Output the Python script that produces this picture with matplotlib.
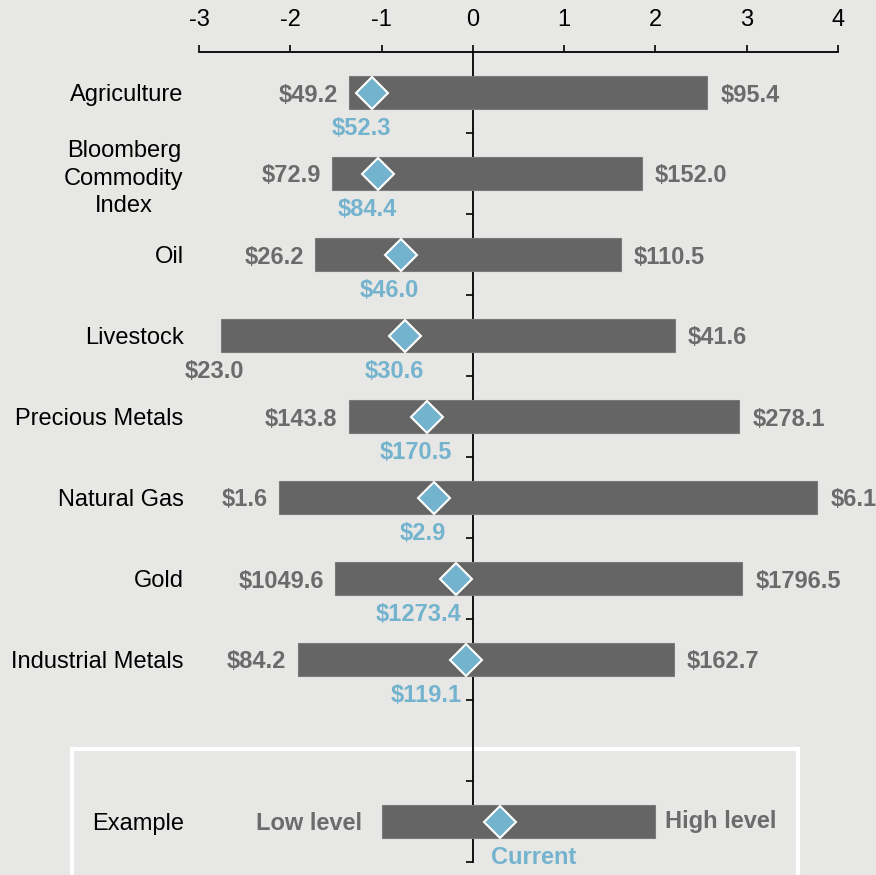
import numpy as np
import matplotlib
matplotlib.use('Agg')
import matplotlib.pyplot as plt
from matplotlib.patches import Rectangle

plt.rcParams['font.family'] = ['Liberation Sans', 'DejaVu Sans']
plt.rcParams['axes.unicode_minus'] = False

# data (z-scores and price levels)
categories = ['Agriculture', 'Bloomberg\nCommodity\nIndex', 'Oil', 'Livestock',
              'Precious Metals', 'Natural Gas', 'Gold', 'Industrial Metals']
low_z = [-1.36, -1.54, -1.73, -2.76, -1.36, -2.12, -1.51, -1.92]
high_z = [2.57, 1.85, 1.62, 2.21, 2.92, 3.77, 2.95, 2.20]
current_z = [-1.10, -1.04, -0.79, -0.74, -0.50, -0.43, -0.18, -0.08]
low_price = ['$49.2', '$72.9', '$26.2', '$23.0', '$143.8', '$1.6', '$1049.6', '$84.2']
high_price = ['$95.4', '$152.0', '$110.5', '$41.6', '$278.1', '$6.1', '$1796.5', '$162.7']
current_price = ['$52.3', '$84.4', '$46.0', '$30.6', '$170.5', '$2.9', '$1273.4', '$119.1']

example_label = 'Example'
example_low, example_high, example_current = -1.0, 2.0, 0.3
example_texts = ['Low level', 'High level', 'Current']
xticks = [-3, -2, -1, 0, 1, 2, 3, 4]

BG = '#e7e7e5'
BAR = '#656565'
TXT = '#6b6b6b'
BLUE = '#74b3cd'
FS = 17

fig = plt.figure(figsize=(8.76, 8.75), dpi=100, facecolor=BG)
ax = fig.add_axes([199/876, 13/875, 639/876, 810/875])
ax.set_facecolor('none')

ypos = np.arange(len(categories))
ex_y = len(categories) + 1

# bars
ax.barh(ypos, np.array(high_z) - np.array(low_z), left=low_z, height=0.41,
        color=BAR, edgecolor='#7a7a7a', linewidth=0.8, zorder=3)
ax.barh([ex_y], [example_high - example_low], left=[example_low], height=0.41,
        color=BAR, edgecolor='#7a7a7a', linewidth=0.8, zorder=3)
# current markers
ax.plot(list(current_z) + [example_current], list(ypos) + [ex_y], 'D', ms=16,
        mfc=BLUE, mec='white', mew=1.5, linestyle='none', zorder=4)

bold = dict(fontsize=FS, fontweight='bold', va='center_baseline')
for y, lo, hi, cu, lp, hp, cp, cat in zip(ypos, low_z, high_z, current_z,
                                          low_price, high_price, current_price, categories):
    ax.annotate(cat, xy=(0, y), xycoords=('axes fraction', 'data'), xytext=(-11, 0),
                textcoords='offset points', ha='right', va='center_baseline', fontsize=FS,
                multialignment='center', linespacing=1.32, annotation_clip=False)
    if lo < -2.5:
        ax.annotate(lp, xy=(lo, y), xytext=(17, -24), textcoords='offset points',
                    ha='right', color=TXT, annotation_clip=False, **bold)
    else:
        ax.annotate(lp, xy=(lo, y), xytext=(-8, 0), textcoords='offset points',
                    ha='right', color=TXT, annotation_clip=False, **bold)
    ax.annotate(hp, xy=(hi, y), xytext=(9.5, 0), textcoords='offset points',
                ha='left', color=TXT, annotation_clip=False, **bold)
    if cu > -0.3:
        ax.annotate(cp, xy=(0, y), xytext=(-8, -24), textcoords='offset points',
                    ha='right', color=BLUE, annotation_clip=False, **bold)
    else:
        ax.annotate(cp, xy=(cu, y), xytext=(-8, -24), textcoords='offset points',
                    ha='center', color=BLUE, annotation_clip=False, **bold)

# example row
ax.annotate(example_label, xy=(0, ex_y), xycoords=('axes fraction', 'data'),
            xytext=(-11, 0), textcoords='offset points', ha='right', va='center_baseline',
            fontsize=FS, annotation_clip=False)
ax.annotate(example_texts[0], xy=(example_low, ex_y), xytext=(-14, 0),
            textcoords='offset points', ha='right', color=TXT, **bold)
ax.annotate(example_texts[1], xy=(example_high, ex_y), xytext=(7, 2),
            textcoords='offset points', ha='left', color=TXT, **bold)
ax.annotate(example_texts[2], xy=(example_current, ex_y), xytext=(-7, -24),
            textcoords='offset points', ha='left', color=BLUE, **bold)

# axes styling
ax.set_xlim(-3, 4)
ax.set_ylim(ex_y + 0.5, -0.5)
ax.xaxis.tick_top()
ax.set_xticks(xticks)
ax.set_xticklabels([str(t) for t in xticks])
ax.tick_params(axis='x', direction='out', length=5, width=1.2, pad=10, labelsize=FS)
ax.spines['top'].set_linewidth(1.3)
ax.spines['bottom'].set_visible(False)
ax.spines['right'].set_visible(False)
ax.spines['left'].set_position(('data', 0))
ax.spines['left'].set_linewidth(1.3)
ax.set_yticks([])
ax.set_yticks(np.arange(0.5, ex_y + 1, 1), minor=True)
ax.tick_params(axis='y', which='minor', direction='out', length=5, width=1.2,
               labelleft=False)

# example box
fig.add_artist(Rectangle((72/876, -0.02), (798-72)/876, (875-749)/875 + 0.02,
                         transform=fig.transFigure, fill=False, edgecolor='white',
                         linewidth=3, zorder=-1))

fig.savefig('out.png', dpi=100, facecolor=BG)
